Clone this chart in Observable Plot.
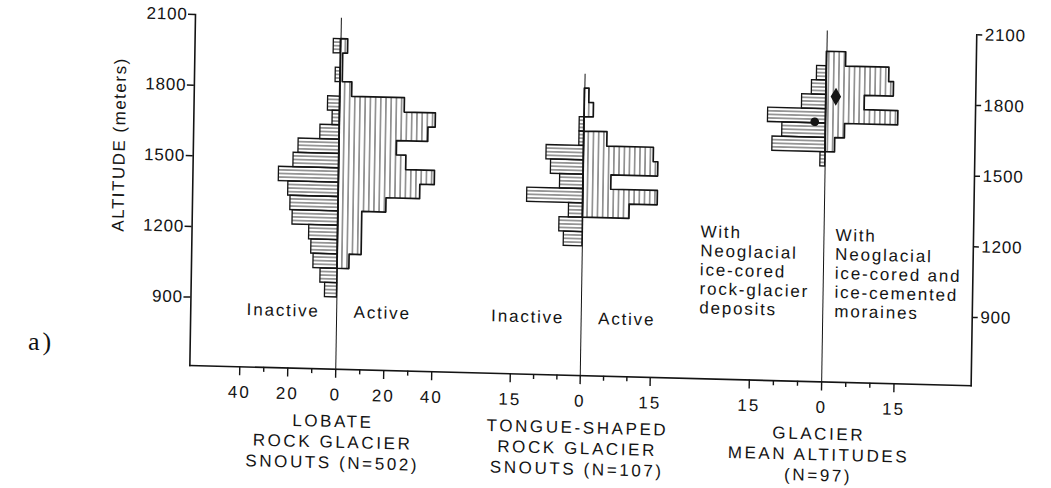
<!DOCTYPE html>
<html>
<head>
<meta charset="utf-8">
<script src="https://cdn.jsdelivr.net/npm/d3@7"></script>
<script src="https://cdn.jsdelivr.net/npm/@observablehq/plot@0.6"></script>
<style>
  html, body { margin: 0; padding: 0; background: #fff; overflow: hidden; }
  #wrap { position: relative; width: 1051px; height: 488px; }
  #chart svg { transform: rotate(0.92deg) skewY(0.57deg); transform-origin: 195px 14px; }
  #chart svg text { letter-spacing: 1.8px; }
  #chart svg g[aria-label="y-axis tick label"] text { letter-spacing: 0.8px; }
  #chart svg g[aria-label="x-axis tick label"] text { letter-spacing: 2px; }
  #chart svg g[aria-description="titles"] text { letter-spacing: 2.6px; }
  #chart svg g[aria-description="ylabel"] text { letter-spacing: 1.5px; }
  #panel { position: absolute; left: 28px; top: 329px; font-family: "Liberation Serif", serif;
           font-size: 26px; line-height: 1; color: #111; letter-spacing: 3px; }
</style>
</head>
<body>
<div id="wrap"><div id="chart"></div><div id="panel">a)</div></div>
<script>
// Altitude classes: 200-ft bins, lower edges in feet
const FT = 0.3048;
const binFeet = [3000, 3200, 3400, 3600, 3800, 4000, 4200, 4400, 4600, 4800, 5000, 5200, 5400, 5600, 5800, 6000, 6200, 6400];

// Counts per altitude class (same order as binFeet)
const lobateInactive  = [5, 7, 10, 11, 12, 19, 20, 21, 25, 19, 17, 8, 3, 5, 0, 2, 0, 3];
const lobateActive    = [0, 0, 5, 10, 10, 10, 20, 34, 40, 28, 24, 37, 40, 27, 5, 1, 1, 3];
const tongueInactive  = [0, 0, 0, 0, 4, 5, 3, 12, 5, 7, 8, 1, 1, 0, 0, 0, 0, 0];
const tongueActive    = [0, 0, 0, 0, 0, 0, 10, 16, 6, 16, 15, 5, 0, 2, 1, 0, 0, 0];
const glacierInactive = [0, 0, 0, 0, 0, 0, 0, 0, 0, 0, 1, 11, 9, 12, 5, 3, 2, 0];
const glacierActive   = [0, 0, 0, 0, 0, 0, 0, 0, 0, 0, 0, 2, 4, 15, 8, 14, 13, 4];

// Axis ticks
const altitudeTicks = [900, 1200, 1500, 1800, 2100];
const lobateTicks = [-40, -30, -20, -10, 0, 10, 20, 30, 40];
const lobateLabeled = [-40, -20, 0, 20, 40];
const smallTicks = [-15, -10, -5, 0, 5, 10, 15];
const smallLabeled = [-15, 0, 15];

// Panel layout along the shared x scale (expressed in lobate count units)
const groups = [
  {key: "lobate", inactive: lobateInactive, active: lobateActive, zero: 0, k: 1,
   ticks: lobateTicks, labeled: lobateLabeled, top: 2100,
   title: "LOBATE\nROCK GLACIER\nSNOUTS (N=502)"},
  {key: "tongue", inactive: tongueInactive, active: tongueActive, zero: 101.9, k: 1.944,
   ticks: smallTicks, labeled: smallLabeled, top: 6200 * FT,
   title: "TONGUE-SHAPED\nROCK GLACIER\nSNOUTS (N=107)"},
  {key: "glacier", inactive: glacierInactive, active: glacierActive, zero: 202.5, k: 2.01,
   ticks: smallTicks, labeled: smallLabeled, top: 2100,
   title: "GLACIER\nMEAN ALTITUDES\n(N=97)"}
];
const [lobate, tongue, glacier] = groups;

const W = 1051, H = 488;
const yMin = 2000 * FT;

// Inactive bars (left of each zero line)
const inactiveBars = groups.flatMap(g => binFeet.map((ft, i) => ({
  x1: g.zero - g.k * g.inactive[i], x2: g.zero, y1: ft * FT, y2: (ft + 200) * FT, n: g.inactive[i]
})).filter(d => d.n > 0));

// Active outlines (right of each zero line), trimmed to occupied classes
const activePts = groups.flatMap(g => {
  const idx = binFeet.map((_, i) => i).filter(i => g.active[i] > 0);
  const lo = d3.min(idx), hi = d3.max(idx);
  return binFeet.slice(lo, hi + 1).flatMap((ft, j) => {
    const c = g.active[lo + j];
    return [
      {g: g.key, zero: g.zero, x: g.zero + g.k * c, y: ft * FT},
      {g: g.key, zero: g.zero, x: g.zero + g.k * c, y: (ft + 200) * FT}
    ];
  });
});

// Bottom axis ticks, placed per panel
const majorTicks = groups.flatMap(g => g.labeled.map(t => ({pos: g.zero + g.k * t, label: String(Math.abs(t))})));
const minorTicks = groups.flatMap(g => g.ticks.filter(t => !g.labeled.includes(t)).map(t => g.zero + g.k * t));
const tickLabel = new Map(majorTicks.map(d => [d.pos, d.label]));

// Mean altitudes of the glacier groups
const meanAlt = counts => d3.sum(binFeet, (ft, i) => (ft + 100) * counts[i]) / d3.sum(counts) * FT;
const meanInactive = [{x: glacier.zero - 2.3 * glacier.k, y: meanAlt(glacierInactive)}];
const meanActive = [{x: glacier.zero + 2.0 * glacier.k, y: meanAlt(glacierActive)}];

const ink = "#141414";

const chart = Plot.plot({
  width: W, height: H,
  marginLeft: 195, marginRight: W - 976.5, marginTop: 14, marginBottom: H - 365,
  x: {domain: [-60.8, 264.8]},
  y: {domain: [yMin, 2100]},
  style: {fontFamily: "'Liberation Sans', Arial, sans-serif", fontSize: "17px", color: ink, background: "transparent", overflow: "visible"},
  marks: [
    Plot.rect(inactiveBars, {x1: "x1", x2: "x2", y1: "y1", y2: "y2", fill: "url(#hh)", stroke: ink, strokeWidth: 1.3}),
    Plot.areaX(activePts, {y: "y", x1: "zero", x2: "x", z: "g", fill: "url(#vh)", stroke: ink, strokeWidth: 1.7, curve: "linear"}),
    Plot.ruleX(groups, {x: "zero", y1: () => yMin, y2: "top", stroke: ink, strokeWidth: 1}),
    Plot.dot(meanInactive, {x: "x", y: "y", symbol: "circle", r: 3.6, fill: ink, stroke: ink}),
    Plot.dot(meanActive, {x: "x", y: "y", symbol: "diamond", r: 4.6, fill: ink, stroke: ink}),
    Plot.frame({anchor: "left", stroke: ink, strokeWidth: 1.6}),
    Plot.frame({anchor: "bottom", stroke: ink, strokeWidth: 1.6}),
    Plot.frame({anchor: "right", stroke: ink, strokeWidth: 1.6}),
    Plot.axisY({anchor: "left", ticks: altitudeTicks, tickSize: 7, tickPadding: 1, tickFormat: d => `${d}`,
                label: null, strokeWidth: 1.5}),
    Plot.axisY({anchor: "right", ticks: altitudeTicks, tickSize: 5, tickPadding: 3, tickFormat: d => `${d}`,
                label: null, strokeWidth: 1.5}),
    Plot.axisX({anchor: "bottom", ticks: majorTicks.map(d => d.pos), tickSize: 9, tickPadding: 10,
                tickFormat: d => tickLabel.get(d), label: null, strokeWidth: 1.4}),
    Plot.axisX({anchor: "bottom", ticks: minorTicks, tickSize: 5, tickFormat: () => null, label: null, strokeWidth: 1.4}),
    // panel captions below the axis
    Plot.text(groups, {x: "zero", text: "title", frameAnchor: "bottom", dy: 43, dx: -2,
                       lineAnchor: "top", textAnchor: "middle", lineHeight: 1.22, ariaDescription: "titles"}),
    // activity labels
    Plot.text([lobate, tongue], {x: "zero", text: () => "Inactive", frameAnchor: "bottom", dy: -64, dx: -17,
                                 lineAnchor: "top", textAnchor: "end"}),
    Plot.text([lobate, tongue], {x: "zero", text: () => "Active", frameAnchor: "bottom", dy: -64, dx: 17,
                                 lineAnchor: "top", textAnchor: "start"}),
    Plot.text([glacier], {x: "zero", text: () => "With\nNeoglacial\nice-cored\nrock-glacier\ndeposits",
                          frameAnchor: "bottom", dy: -155, dx: -123.5, lineAnchor: "top", textAnchor: "start", lineHeight: 1.12}),
    Plot.text([glacier], {x: "zero", text: () => "With\nNeoglacial\nice-cored and\nice-cemented\nmoraines",
                          frameAnchor: "bottom", dy: -155, dx: 11.5, lineAnchor: "top", textAnchor: "start", lineHeight: 1.12}),
    // vertical axis title
    Plot.text(["ALTITUDE (meters)"], {frameAnchor: "left", y: () => 1540, dx: -74, rotate: -90,
                                      textAnchor: "middle", lineAnchor: "middle", ariaDescription: "ylabel"})
  ]
});

// Hatch patterns: vertical for active classes, horizontal (quarter-class spacing) for inactive
const ns = "http://www.w3.org/2000/svg";
const ys = chart.scale("y");
const classPx = Math.abs(ys.apply(200 * FT) - ys.apply(0));
const hStep = classPx / 4;
const edgeY = ys.apply(binFeet[0] * FT);
const defs = document.createElementNS(ns, "defs");
defs.innerHTML =
  `<pattern id="vh" patternUnits="userSpaceOnUse" width="5.2" height="20">
     <line x1="2.6" y1="0" x2="2.6" y2="20" stroke="#2a2a2a" stroke-width="0.9"/>
   </pattern>
   <pattern id="hh" patternUnits="userSpaceOnUse" width="20" height="${hStep}" y="${(edgeY - hStep / 2) % hStep}">
     <line x1="0" y1="${hStep / 2}" x2="20" y2="${hStep / 2}" stroke="#2a2a2a" stroke-width="0.9"/>
   </pattern>`;
chart.insertBefore(defs, chart.firstChild);

document.getElementById("chart").append(chart);
</script>
</body>
</html>
